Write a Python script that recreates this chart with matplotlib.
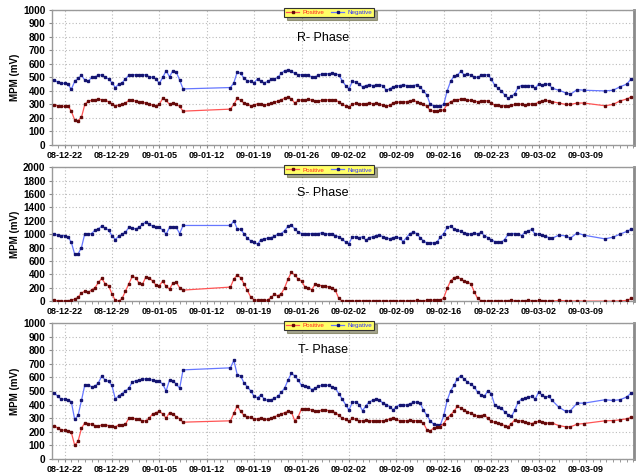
import matplotlib
matplotlib.use("Agg")
import matplotlib.pyplot as plt
import matplotlib.dates as mdates
import numpy as np
import datetime as dt

# time offsets (days after 2008-12-22)
days_a = [-1.5, -1.0, -0.5, 0.0, 0.5, 1.0, 1.5, 2.0, 2.5, 3.0, 3.5, 4.0, 4.5, 5.0, 5.5, 6.0, 6.5, 7.0, 7.5, 8.0,
          8.5, 9.0, 9.5, 10.0, 10.5, 11.0, 11.5, 12.0, 12.5, 13.0, 13.5, 14.0, 14.5, 15.0, 15.5, 16.0, 16.5, 17.0, 17.5]
days_b = [24.5, 25.0, 25.5, 26.0, 26.5, 27.0, 27.5, 28.0, 28.5, 29.0, 29.5, 30.0, 30.5, 31.0, 31.5, 32.0, 32.5, 33.0,
          33.5, 34.0, 34.5, 35.0, 35.5, 36.0, 36.5, 37.0, 37.5, 38.0, 38.5, 39.0, 39.5, 40.0, 40.5, 41.0, 41.5, 42.0,
          42.5, 43.0, 43.5, 44.0, 44.5, 45.0, 45.5, 46.0, 46.5, 47.0, 47.5, 48.0, 48.5, 49.0, 49.5, 50.0, 50.5, 51.0,
          51.5, 52.0, 52.5, 53.0, 53.5, 54.0, 54.5, 55.0, 55.5, 56.0, 56.5, 57.0, 57.5, 58.0, 58.5, 59.0, 59.5, 60.0,
          60.5, 61.0, 61.5, 62.0, 62.5, 63.0, 63.5, 64.0, 64.5, 65.0, 65.5, 66.0, 66.5, 67.0, 67.5, 68.0, 68.5, 69.0,
          69.5, 70.0, 70.5, 71.0, 71.5, 72.0]
days_c = [73.0, 74.0, 74.7, 75.7, 76.7, 79.8, 81.0, 82.0, 83.0, 83.7]

# R phase
r_neg = [480, 465, 458, 455, 450, 412, 470, 495, 515, 480, 472, 500, 505, 515, 520, 500, 490, 460, 425, 450,
         460, 490, 515, 520, 520, 518, 518, 520, 505, 500, 490, 455, 500, 550, 505, 550, 540, 480, 415,
         425, 460, 540, 530, 495, 475, 470, 460, 490, 470, 460, 470, 485, 490, 500, 530, 550, 555,
         545, 530, 520, 520, 520, 515, 505, 505, 515, 525, 525, 528, 530, 525, 520, 475, 440, 415,
         470, 465, 450, 430, 440, 445, 440, 442, 445, 440, 405, 415, 430, 435, 440, 445, 440, 438,
         440, 445, 430, 400, 370, 300, 290, 290, 290, 300, 400, 470, 510, 515, 545, 520, 525, 515,
         505, 500, 515, 520, 520, 490, 445, 420, 400, 370, 345, 360, 380, 430, 440, 440, 440, 440,
         420, 450, 445, 450, 450, 420,
         405, 386, 375, 410, 405, 400, 405, 430, 450, 490]
r_pos = [295, 290, 285, 285, 290, 250, 185, 180, 205, 300, 325, 330, 335, 338, 335, 330, 320, 305, 290, 295,
         300, 310, 330, 330, 325, 320, 315, 310, 300, 295, 290, 300, 345, 330, 300, 310, 300, 285, 250,
         265, 300, 345, 330, 310, 300, 290, 295, 305, 300, 295, 300, 310, 315, 325, 335, 345, 355,
         340, 310, 330, 335, 330, 340, 330, 325, 325, 330, 332, 335, 335, 330, 320, 300, 290, 282,
         300, 307, 305, 300, 305, 310, 305, 307, 300, 295, 290, 292, 310, 320, 315, 318, 320, 325,
         330, 320, 310, 300, 285, 255, 250, 250, 255, 260, 300, 320, 330, 335, 338, 337, 330, 330,
         325, 320, 325, 328, 325, 310, 295, 292, 290, 290, 285, 292, 300, 305, 300, 298, 300, 305,
         300, 320, 325, 330, 325, 320,
         310, 300, 300, 310, 310, 290, 300, 325, 340, 355]

# S phase
s_neg = [1000, 985, 980, 980, 960, 880, 700, 705, 800, 1010, 1000, 1010, 1060, 1080, 1120, 1090, 1060, 980, 920, 970,
         1000, 1030, 1100, 1090, 1080, 1100, 1150, 1180, 1150, 1120, 1110, 1100, 1060, 1000, 1100, 1110, 1100, 1010, 1130,
         1130, 1200, 1080, 1070, 1010, 940, 900, 880, 850, 920, 930, 940, 950, 970, 1000, 1010, 1050, 1120,
         1130, 1080, 1030, 1010, 1010, 1005, 1010, 1010, 1010, 1020, 1010, 1000, 1010, 980, 960, 930, 880, 860,
         960, 960, 950, 960, 910, 950, 960, 980, 990, 960, 950, 930, 950, 960, 940, 890, 950, 1010,
         1030, 1010, 950, 900, 870, 870, 870, 880, 960, 1010, 1100, 1120, 1080, 1060, 1040, 1020, 1010, 1000,
         1020, 1000, 1030, 980, 950, 920, 890, 880, 880, 920, 1000, 1010, 1010, 1000, 980, 1030, 1050, 1070,
         1000, 1000, 990, 970, 950, 940,
         985, 975, 940, 1020, 985, 930, 955, 1000, 1040, 1075]
s_pos = [10, 5, 0, 0, 5, 10, 30, 60, 120, 150, 130, 170, 200, 280, 340, 260, 230, 110, 10, 0,
         40, 150, 260, 370, 350, 270, 250, 360, 350, 300, 240, 230, 300, 220, 180, 270, 280, 200, 165,
         210, 330, 390, 350, 260, 160, 60, 20, 15, 10, 10, 15, 60, 100, 80, 110, 200, 330,
         430, 390, 330, 300, 210, 200, 170, 250, 240, 230, 220, 215, 200, 160, 40, 0, 0, 0,
         0, 0, 0, 5, 0, 0, 0, 5, 0, 0, 0, 0, 5, 0, 0, 5, 0, 0,
         5, 10, 5, 5, 10, 10, 15, 15, 10, 50, 190, 300, 350, 365, 330, 300, 280, 260,
         140, 40, 5, 0, 0, 0, 0, 5, 0, 0, 0, 10, 5, 0, 0, 5, 10, 5,
         0, 10, 5, 0, 0, 0,
         10, 5, 0, 5, 0, 0, 0, 5, 10, 40]

# T phase
t_neg = [485, 460, 440, 440, 435, 420, 290, 320, 430, 545, 545, 530, 535, 560, 610, 580, 570, 540, 440, 465,
         480, 500, 520, 565, 575, 580, 585, 590, 585, 580, 570, 570, 550, 500, 580, 575, 550, 520, 655,
         670, 725, 620, 610, 560, 530, 500, 460, 450, 470, 440, 430, 435, 445, 460, 490, 520, 580,
         630, 610, 580, 540, 535, 530, 510, 520, 535, 540, 545, 540, 530, 520, 480, 440, 400, 360,
         415, 420, 400, 355, 390, 420, 430, 440, 435, 410, 400, 385, 360, 385, 398, 400, 395, 405,
         415, 418, 410, 360, 320, 280, 255, 250, 250, 320, 430, 500, 540, 590, 610, 590, 565, 550,
         530, 490, 470, 460, 500, 480, 400, 385, 375, 345, 325, 312, 360, 420, 440, 445, 455, 460,
         440, 490, 470, 455, 460, 430,
         380, 350, 355, 410, 410, 435, 430, 435, 455, 485]
t_pos = [245, 225, 215, 210, 205, 195, 100, 130, 225, 265, 260, 255, 245, 240, 250, 250, 245, 240, 235, 250,
         250, 255, 300, 300, 295, 290, 280, 280, 300, 330, 340, 350, 330, 300, 340, 330, 310, 295, 270,
         280, 335, 390, 350, 320, 310, 305, 290, 295, 300, 290, 290, 300, 310, 320, 330, 340, 350,
         345, 280, 310, 370, 365, 365, 360, 350, 350, 360, 360, 355, 350, 340, 320, 300, 290, 275,
         300, 290, 280, 280, 285, 280, 280, 282, 280, 280, 285, 295, 300, 290, 280, 282, 280, 285,
         280, 282, 275, 263, 215, 206, 226, 232, 238, 260, 300, 324, 350, 386, 375, 361, 345, 336,
         325, 312, 318, 324, 300, 275, 270, 263, 255, 245, 238, 260, 287, 280, 280, 270, 262, 260,
         268, 275, 270, 265, 263, 263,
         245, 236, 236, 255, 260, 280, 282, 287, 295, 305]

phase_titles = ["R- Phase", "S- Phase", "T- Phase"]
y_max = [1000, 2000, 1000]
y_step = [100, 200, 100]
series_neg = [r_neg, s_neg, t_neg]
series_pos = [r_pos, s_pos, t_pos]
y_label = "MPM (mV)"
legend_labels = ["Positive", "Negative"]

base = dt.datetime(2008, 12, 22)
all_days = days_a + days_b + days_c
times = [base + dt.timedelta(days=d) for d in all_days]

fig = plt.figure(figsize=(6.4, 4.75), dpi=100)
plt.rcParams['font.family'] = ['Liberation Sans', 'DejaVu Sans']

rects = [(0.081, 0.695, 0.910, 0.284),
         (0.081, 0.366, 0.910, 0.282),
         (0.081, 0.034, 0.910, 0.286)]
title_y = [0.79, 0.805, 0.80]

neg_line = '#6677ff'
neg_mark = '#141470'
pos_line = '#ff5555'
pos_mark = '#650a0a'

for i in range(3):
    ax = fig.add_axes(rects[i])
    ax.plot(times, series_neg[i], color=neg_line, lw=0.9, marker='s', ms=1.8,
            mfc=neg_mark, mec=neg_mark, label=legend_labels[1], zorder=3)
    ax.plot(times, series_pos[i], color=pos_line, lw=0.9, marker='s', ms=1.8,
            mfc=pos_mark, mec=pos_mark, label=legend_labels[0], zorder=3)
    ax.set_ylim(0, y_max[i])
    ax.set_yticks(np.arange(0, y_max[i] + 1, y_step[i]))
    ax.set_xlim(dt.datetime(2008, 12, 20, 3), dt.datetime(2009, 3, 16, 3))
    ax.set_xticks([base + dt.timedelta(days=7 * k) for k in range(12)])
    ax.xaxis.set_major_formatter(mdates.DateFormatter('%y-%m-%d'))
    ax.xaxis.set_minor_locator(mdates.DayLocator())
    ax.tick_params(axis='x', which='minor', length=2, color='#888888')
    ax.tick_params(axis='x', which='major', length=2.5, color='#888888', labelsize=6.5, pad=2)
    ax.tick_params(axis='y', which='major', length=2.5, color='#888888', labelsize=7.2, pad=2)
    for lab in ax.get_xticklabels() + ax.get_yticklabels():
        lab.set_fontweight('bold')
    ax.grid(True, which='major', linestyle=(0, (1, 2)), color='#bbbbbb', lw=0.8)
    ax.set_axisbelow(True)
    for side in ['left', 'bottom', 'top']:
        ax.spines[side].set_color('#9a9a9a')
        ax.spines[side].set_linewidth(1.0)
    ax.spines['right'].set_color('#8a8a8a')
    ax.spines['right'].set_linewidth(2.0)
    ax.set_ylabel(y_label, fontsize=7, fontweight='bold', labelpad=2)
    ax.text(0.466, title_y[i], phase_titles[i], transform=ax.transAxes, ha='center', va='center', fontsize=9)
    h, l = ax.get_legend_handles_labels()
    leg = ax.legend(h[::-1], l[::-1], loc='center', bbox_to_anchor=(0.476, 0.98), ncol=2, fontsize=4.5,
                    frameon=True, fancybox=False, shadow=True, handlelength=2.2, handletextpad=0.5,
                    columnspacing=1.0, borderpad=0.3, borderaxespad=0)
    leg.get_frame().set_facecolor('#ffff66')
    leg.get_frame().set_edgecolor('#333333')
    leg.get_frame().set_linewidth(0.8)
    leg.get_texts()[0].set_color('#ff2222')
    leg.get_texts()[1].set_color('#3333ff')

fig.savefig('out.png', dpi=100)
